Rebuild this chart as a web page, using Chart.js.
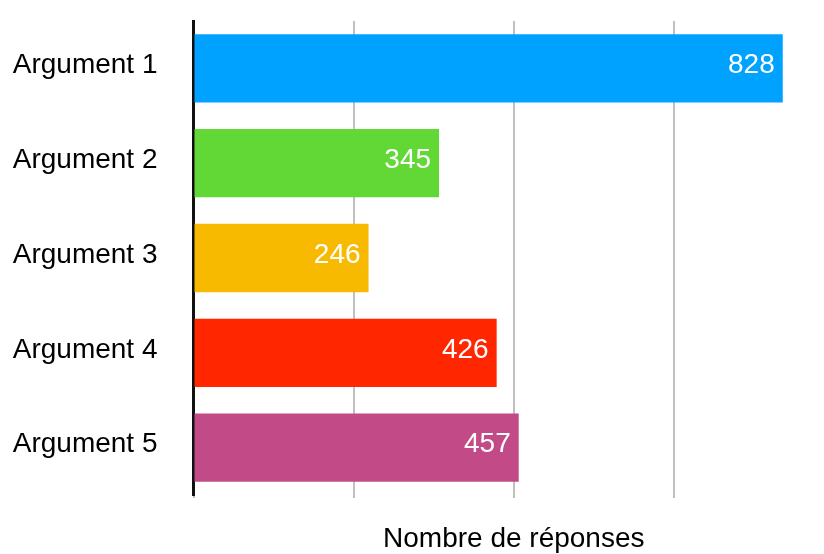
<!DOCTYPE html>
<html>
<head>
<meta charset="utf-8">
<script src="https://cdn.jsdelivr.net/npm/chart.js@4/dist/chart.umd.min.js"></script>
<style>
  html, body { margin: 0; padding: 0; background: #ffffff; overflow: hidden; }
  #wrap { width: 834px; height: 554px; }
</style>
</head>
<body>
<div id="wrap"><canvas id="c" width="834" height="554"></canvas></div>
<script>
const categories = ["Argument 1", "Argument 2", "Argument 3", "Argument 4", "Argument 5"];
const values = [828, 345, 246, 426, 457];
const axisTitle = "Nombre de réponses";
const axisMin = 0;
const axisMax = 900;
const axisStep = 225;

const barColors = ["#00A2FF", "#61D836", "#F8BA00", "#FF2600", "#C24B87"];
const FONT = "'Liberation Sans', Arial, Helvetica, sans-serif";

const valueLabels = {
  id: "valueLabels",
  afterDatasetsDraw(chart) {
    const ctx = chart.ctx;
    const meta = chart.getDatasetMeta(0);
    ctx.save();
    ctx.font = "28px " + FONT;
    ctx.fillStyle = "#ffffff";
    ctx.textAlign = "right";
    ctx.textBaseline = "middle";
    meta.data.forEach((bar, i) => {
      ctx.fillText(String(values[i]), bar.x - 8, bar.y - 3);
    });
    ctx.restore();
  }
};

new Chart(document.getElementById("c"), {
  type: "bar",
  data: {
    labels: categories,
    datasets: [{
      data: values,
      backgroundColor: barColors,
      borderWidth: 0,
      barPercentage: 0.8,
      categoryPercentage: 0.9
    }]
  },
  options: {
    indexAxis: "y",
    responsive: false,
    animation: false,
    layout: { padding: { top: 21, right: 0, bottom: 0, left: 0 } },
    plugins: {
      legend: { display: false },
      tooltip: { enabled: false }
    },
    scales: {
      x: {
        min: axisMin,
        max: axisMax,
        ticks: { display: false, stepSize: axisStep },
        grid: { display: true, color: "#c0c0c0", lineWidth: 2, drawTicks: true, tickLength: 3 },
        border: { display: false },
        title: {
          display: true,
          text: axisTitle,
          color: "#000000",
          font: { family: FONT, size: 28, lineHeight: 1 },
          padding: { top: 27, bottom: 1 }
        }
      },
      y: {
        z: 1,
        afterFit(scale) {
          scale.width = 193.5;
          scale.paddingTop = 0;
          scale.paddingBottom = 0;
        },
        ticks: {
          color: "#000000",
          font: { family: FONT, size: 28 },
          padding: 36,
          labelOffset: -3
        },
        grid: { display: false, drawTicks: false },
        border: { display: true, color: "#111111", width: 3 }
      }
    }
  },
  plugins: [valueLabels]
});
</script>
</body>
</html>
